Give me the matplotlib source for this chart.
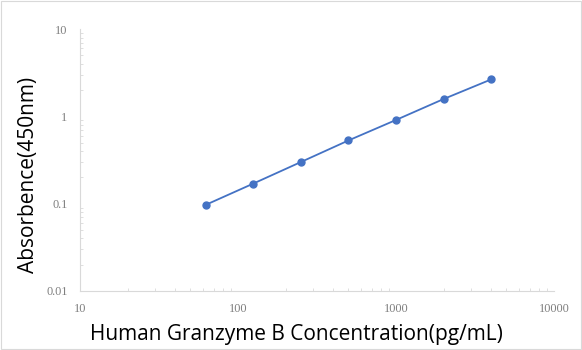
import matplotlib
matplotlib.use("Agg")
import matplotlib.pyplot as plt
from matplotlib.ticker import FixedLocator, FixedFormatter, LogLocator, NullFormatter

# standard curve
conc = [62.5, 125, 250, 500, 1000, 2000, 4000]
absorb = [0.097, 0.17, 0.30, 0.53, 0.91, 1.58, 2.65]

xticks = [10, 100, 1000, 10000]
xlabels = ["10", "100", "1000", "10000"]
yticks = [0.01, 0.1, 1, 10]
ylabels = ["0.01", "0.1", "1", "10"]

fig = plt.figure(figsize=(5.82, 3.5), dpi=100)
ax = fig.add_axes([0.1375, 0.1686, 0.8145, 0.7484])

ax.plot(conc, absorb, color="#4472C4", lw=1.3, marker="o", ms=5, zorder=3)

ax.set_xscale("log")
ax.set_yscale("log")
ax.set_xlim(10, 10000)
ax.set_ylim(0.01, 10)

ax.xaxis.set_major_locator(FixedLocator(xticks))
ax.xaxis.set_major_formatter(FixedFormatter(xlabels))
ax.yaxis.set_major_locator(FixedLocator(yticks))
ax.yaxis.set_major_formatter(FixedFormatter(ylabels))
ax.xaxis.set_minor_locator(LogLocator(base=10, subs=range(2, 10)))
ax.yaxis.set_minor_locator(LogLocator(base=10, subs=range(2, 10)))
ax.xaxis.set_minor_formatter(NullFormatter())
ax.yaxis.set_minor_formatter(NullFormatter())

ax.tick_params(which="major", length=0, pad=9, labelsize=8.8, labelcolor="#7f7f7f")
ax.tick_params(which="minor", direction="in", length=2.5, width=0.6, color="#d9d9d9")
for lbl in ax.get_xticklabels() + ax.get_yticklabels():
    lbl.set_family("Liberation Serif")

for s in ["top", "right"]:
    ax.spines[s].set_visible(False)
for s in ["left", "bottom"]:
    ax.spines[s].set_color("#d9d9d9")
    ax.spines[s].set_linewidth(0.8)

ax.set_xlabel("Human Granzyme B Concentration(pg/mL)", fontsize=15, family="Open Sans", labelpad=6)
ax.set_ylabel("Absorbence(450nm)", fontsize=15, family="Open Sans", labelpad=5)
ax.xaxis.label.set_x(0.457)
ax.yaxis.label.set_y(0.443)

# light frame around the chart area
fig.patches.append(plt.Rectangle((0.001, 0.002), 0.997, 0.996, transform=fig.transFigure,
                                 fill=False, edgecolor="#d9d9d9", lw=0.8))

fig.savefig("out.png", dpi=100)
